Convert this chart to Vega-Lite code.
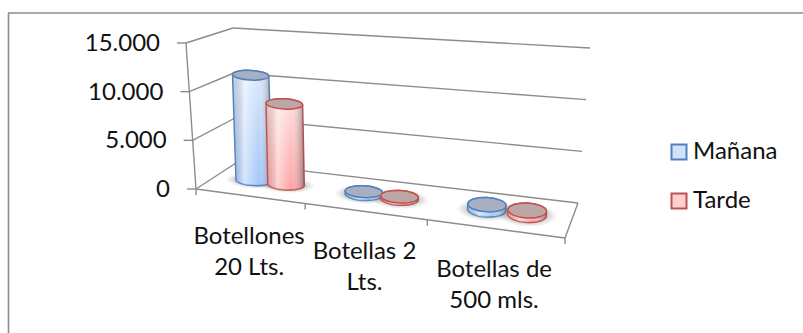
{
  "$schema": "https://vega.github.io/schema/vega-lite/v6.json",
  "width": 803,
  "height": 333,
  "padding": 0,
  "autosize": {"type": "none"},
  "background": "white",
  "view": {"stroke": null},
  "config": {"text": {"font": "Lato", "fontSize": 24, "fill": "#111111"}},
  "datasets": {
    "cilindros": [
      {"categoria": "Botellones 20 Lts.", "serie": "Mañana", "valor": 11100},
      {"categoria": "Botellones 20 Lts.", "serie": "Tarde", "valor": 8400},
      {"categoria": "Botellas 2 Lts.", "serie": "Mañana", "valor": 280},
      {"categoria": "Botellas 2 Lts.", "serie": "Tarde", "valor": 220},
      {"categoria": "Botellas de 500 mls.", "serie": "Mañana", "valor": 500},
      {"categoria": "Botellas de 500 mls.", "serie": "Tarde", "valor": 420}
    ],
    "escala": [{"valor": 0}, {"valor": 5000}, {"valor": 10000}, {"valor": 15000}],
    "categorias": [
      {"posicion": 0, "lineas": ["Botellones", "20 Lts."]},
      {"posicion": 1, "lineas": ["Botellas 2", "Lts."]},
      {"posicion": 2, "lineas": ["Botellas de", "500 mls."]}
    ],
    "marcas": [{"posicion": 0}, {"posicion": 1}, {"posicion": 2}, {"posicion": 3}]
  },
  "encoding": {
    "x": {"type": "quantitative", "scale": {"domain": [0, 803], "nice": false, "zero": false}, "axis": null},
    "y": {"type": "quantitative", "scale": {"domain": [0, 333], "reverse": true, "nice": false, "zero": false}, "axis": null}
  },
  "layer": [
    {
      "data": {"values": [{"marco": "superior"}]},
      "mark": {"type": "rule", "stroke": "#8c8c8c", "strokeWidth": 1.6},
      "encoding": {"x": {"datum": 8}, "x2": {"datum": 803}, "y": {"datum": 13}}
    },
    {
      "data": {"values": [{"marco": "izquierdo"}]},
      "mark": {"type": "rule", "stroke": "#8c8c8c", "strokeWidth": 1.6},
      "encoding": {"x": {"datum": 8.5}, "y": {"datum": 13}, "y2": {"datum": 333}}
    },
    {
      "data": {"name": "escala"},
      "transform": [
        {"calculate": "datum.valor/15000", "as": "w"},
        {"calculate": "236-3*datum.w", "as": "x0"},
        {"calculate": "163-135*datum.w", "as": "y0"},
        {"calculate": "578+12*datum.w", "as": "x1"},
        {"calculate": "203-155*datum.w", "as": "y1"}
      ],
      "mark": {"type": "rule", "stroke": "#8c8c8c", "strokeWidth": 1.4},
      "encoding": {
        "x": {"field": "x0", "type": "quantitative"},
        "y": {"field": "y0", "type": "quantitative"},
        "x2": {"field": "x1"},
        "y2": {"field": "y1"}
      }
    },
    {
      "data": {"name": "escala"},
      "transform": [
        {"calculate": "datum.valor/15000", "as": "w"},
        {"calculate": "196-10*datum.w", "as": "x0"},
        {"calculate": "189-146*datum.w", "as": "y0"},
        {"calculate": "236-3*datum.w", "as": "x1"},
        {"calculate": "163-135*datum.w", "as": "y1"}
      ],
      "mark": {"type": "rule", "stroke": "#8c8c8c", "strokeWidth": 1.4},
      "encoding": {
        "x": {"field": "x0", "type": "quantitative"},
        "y": {"field": "y0", "type": "quantitative"},
        "x2": {"field": "x1"},
        "y2": {"field": "y1"}
      }
    },
    {
      "data": {"name": "escala"},
      "transform": [
        {"calculate": "datum.valor/15000", "as": "w"},
        {"calculate": "196-10*datum.w", "as": "x1"},
        {"calculate": "189-146*datum.w", "as": "y0"},
        {"calculate": "datum.x1-9", "as": "x0"}
      ],
      "mark": {"type": "rule", "stroke": "#8c8c8c", "strokeWidth": 1.4},
      "encoding": {
        "x": {"field": "x0", "type": "quantitative"},
        "y": {"field": "y0", "type": "quantitative"},
        "x2": {"field": "x1"}
      }
    },
    {
      "data": {"values": [{"arista": "eje de valores"}]},
      "mark": {"type": "rule", "stroke": "#8c8c8c", "strokeWidth": 1.4},
      "encoding": {"x": {"datum": 186}, "y": {"datum": 43}, "x2": {"datum": 196}, "y2": {"datum": 189}}
    },
    {
      "data": {"values": [{"arista": "eje de categorias"}]},
      "mark": {"type": "rule", "stroke": "#8c8c8c", "strokeWidth": 1.4},
      "encoding": {"x": {"datum": 196}, "y": {"datum": 189}, "x2": {"datum": 565}, "y2": {"datum": 238}}
    },
    {
      "data": {"values": [{"arista": "lateral del suelo"}]},
      "mark": {"type": "rule", "stroke": "#8c8c8c", "strokeWidth": 1.4},
      "encoding": {"x": {"datum": 565}, "y": {"datum": 238}, "x2": {"datum": 578}, "y2": {"datum": 203}}
    },
    {
      "data": {"name": "marcas"},
      "transform": [
        {"calculate": "datum.posicion/3", "as": "t"},
        {"calculate": "datum.t/(datum.t+1.19*(1-datum.t))", "as": "f"},
        {"calculate": "196+369*datum.f", "as": "x0"},
        {"calculate": "189+49*datum.f", "as": "y0"},
        {"calculate": "datum.y0+6", "as": "y1"}
      ],
      "mark": {"type": "rule", "stroke": "#8c8c8c", "strokeWidth": 1.4},
      "encoding": {
        "x": {"field": "x0", "type": "quantitative"},
        "y": {"field": "y0", "type": "quantitative"},
        "y2": {"field": "y1"}
      }
    },
    {
      "data": {"name": "escala"},
      "transform": [
        {"calculate": "datum.valor/15000", "as": "w"},
        {"calculate": "196-10*datum.w-26", "as": "x0"},
        {"calculate": "189-146*datum.w+8", "as": "y0"},
        {"calculate": "replace(format(datum.valor, ','), ',', '.')", "as": "etiqueta"}
      ],
      "mark": {"type": "text", "align": "right", "baseline": "alphabetic"},
      "encoding": {
        "x": {"field": "x0", "type": "quantitative"},
        "y": {"field": "y0", "type": "quantitative"},
        "text": {"field": "etiqueta"}
      }
    },
    {
      "data": {"name": "categorias"},
      "transform": [
        {"calculate": "(datum.posicion+0.5)/3", "as": "t"},
        {"calculate": "datum.t/(datum.t+1.19*(1-datum.t))", "as": "f"},
        {"calculate": "196+369*datum.f", "as": "x0"},
        {"calculate": "189+49*datum.f+48", "as": "y0"}
      ],
      "mark": {"type": "text", "align": "center", "baseline": "alphabetic", "lineHeight": 31},
      "encoding": {
        "x": {"field": "x0", "type": "quantitative"},
        "y": {"field": "y0", "type": "quantitative"},
        "text": {"field": "lineas"}
      }
    },
    {
      "data": {"name": "cilindros"},
      "transform": [
        {"calculate": "indexof(['Botellones 20 Lts.','Botellas 2 Lts.','Botellas de 500 mls.'], datum.categoria)/3 + (datum.serie === 'Mañana' ? 0.125 : 0.226)", "as": "t"},
        {"calculate": "datum.t/(datum.t+1.19*(1-datum.t))", "as": "f"},
        {"calculate": "datum.valor/15000", "as": "w"},
        {"calculate": "216+355.5*datum.f", "as": "cx"},
        {"calculate": "176+44.5*datum.f", "as": "cy"},
        {"calculate": "datum.w*(-6.5+17.5*datum.f)", "as": "dx"},
        {"calculate": "datum.w*(-140.5-19.5*datum.f)", "as": "dy"},
        {"calculate": "datum.cx+datum.dx", "as": "tx"},
        {"calculate": "datum.cy+datum.dy", "as": "ty"},
        {"calculate": "18+1.5*datum.f", "as": "rx"},
        {"calculate": "4.5+3.5*datum.f", "as": "ry"},
        {"calculate": "datum.rx*0.9986", "as": "lx"},
        {"calculate": "datum.rx*0.0523", "as": "ly"},
        {"calculate": "'A'+datum.rx+','+datum.ry+',3,0,0,'", "as": "arco"},
        {"calculate": "'M'+(-datum.lx)+','+(-datum.ly)+datum.arco+datum.lx+','+datum.ly+'L'+(datum.dx+datum.lx)+','+(datum.dy+datum.ly)+datum.arco+(datum.dx-datum.lx)+','+(datum.dy-datum.ly)+'Z'", "as": "silueta"},
        {"calculate": "'M'+(-datum.lx)+','+(-datum.ly)+datum.arco+datum.lx+','+datum.ly+datum.arco+(-datum.lx)+','+(-datum.ly)+'Z'", "as": "tapa"}
      ],
      "encoding": {
        "x": {"field": "cx", "type": "quantitative"},
        "y": {"field": "cy", "type": "quantitative"}
      },
      "layer": [
        {
          "mark": {"type": "point", "filled": true, "fill": "#000000", "opacity": 0.05, "strokeOpacity": 0},
          "encoding": {"size": {"value": 9}, "shape": {"field": "tapa", "type": "nominal", "scale": null}}
        },
        {
          "mark": {"type": "point", "filled": true, "fill": "#000000", "opacity": 0.06, "strokeOpacity": 0},
          "encoding": {"size": {"value": 7}, "shape": {"field": "tapa", "type": "nominal", "scale": null}}
        },
        {
          "mark": {"type": "point", "filled": true, "fill": "#000000", "opacity": 0.08, "strokeOpacity": 0},
          "encoding": {"size": {"value": 5.4}, "shape": {"field": "tapa", "type": "nominal", "scale": null}}
        },
        {
          "transform": [{"filter": "datum.serie === 'Mañana'"}],
          "mark": {"type": "point", "filled": true, "opacity": 1, "stroke": "#4f81bd", "strokeWidth": 1.5,
            "fill": {"gradient": "linear", "x1": 0, "y1": 0, "x2": 0, "y2": 1,
              "stops": [{"offset": 0, "color": "#dde9fb"}, {"offset": 1, "color": "#a3c6f8"}]}},
          "encoding": {"size": {"value": 4}, "shape": {"field": "silueta", "type": "nominal", "scale": null}}
        },
        {
          "transform": [{"filter": "datum.serie === 'Mañana'"}],
          "mark": {"type": "point", "filled": true, "opacity": 1, "strokeOpacity": 0,
            "fill": {"gradient": "linear", "x1": 0, "y1": 0, "x2": 1, "y2": 0,
              "stops": [
                {"offset": 0, "color": "rgba(110,125,150,0.25)"},
                {"offset": 0.3, "color": "rgba(255,255,255,0.55)"},
                {"offset": 0.65, "color": "rgba(255,255,255,0)"},
                {"offset": 1, "color": "rgba(80,85,95,0.6)"}
              ]}},
          "encoding": {"size": {"value": 4}, "shape": {"field": "silueta", "type": "nominal", "scale": null}}
        },
        {
          "transform": [{"filter": "datum.serie === 'Mañana'"}],
          "mark": {"type": "point", "filled": true, "opacity": 1, "fill": "#a6b0c2", "stroke": "#4f81bd", "strokeWidth": 1.5},
          "encoding": {
            "x": {"field": "tx", "type": "quantitative"},
            "y": {"field": "ty", "type": "quantitative"},
            "size": {"value": 4},
            "shape": {"field": "tapa", "type": "nominal", "scale": null}
          }
        },
        {
          "transform": [{"filter": "datum.serie === 'Tarde'"}],
          "mark": {"type": "point", "filled": true, "opacity": 1, "stroke": "#c0504d", "strokeWidth": 1.5,
            "fill": {"gradient": "linear", "x1": 0, "y1": 0, "x2": 0, "y2": 1,
              "stops": [{"offset": 0, "color": "#fde0e0"}, {"offset": 1, "color": "#ffa3a3"}]}},
          "encoding": {"size": {"value": 4}, "shape": {"field": "silueta", "type": "nominal", "scale": null}}
        },
        {
          "transform": [{"filter": "datum.serie === 'Tarde'"}],
          "mark": {"type": "point", "filled": true, "opacity": 1, "strokeOpacity": 0,
            "fill": {"gradient": "linear", "x1": 0, "y1": 0, "x2": 1, "y2": 0,
              "stops": [
                {"offset": 0, "color": "rgba(150,110,110,0.25)"},
                {"offset": 0.3, "color": "rgba(255,255,255,0.5)"},
                {"offset": 0.65, "color": "rgba(255,255,255,0)"},
                {"offset": 1, "color": "rgba(95,80,80,0.6)"}
              ]}},
          "encoding": {"size": {"value": 4}, "shape": {"field": "silueta", "type": "nominal", "scale": null}}
        },
        {
          "transform": [{"filter": "datum.serie === 'Tarde'"}],
          "mark": {"type": "point", "filled": true, "opacity": 1, "fill": "#bfa6a6", "stroke": "#c0504d", "strokeWidth": 1.5},
          "encoding": {
            "x": {"field": "tx", "type": "quantitative"},
            "y": {"field": "ty", "type": "quantitative"},
            "size": {"value": 4},
            "shape": {"field": "tapa", "type": "nominal", "scale": null}
          }
        },
        {
          "mark": {"type": "point", "filled": true, "size": 0, "opacity": 0},
          "encoding": {
            "fill": {
              "field": "serie",
              "type": "nominal",
              "scale": {"domain": ["Mañana", "Tarde"], "range": ["#d3e2f9", "#fdd0d0"]},
              "legend": {
                "title": null,
                "orient": "none",
                "legendX": 667,
                "legendY": 140,
                "symbolType": "square",
                "symbolSize": 225,
                "symbolOpacity": 1,
                "symbolStrokeWidth": 2,
                "labelFont": "Lato",
                "labelFontSize": 24,
                "labelColor": "#111111",
                "labelOffset": 2,
                "rowPadding": 25,
                "encode": {
                  "symbols": {
                    "update": {
                      "fill": {"signal": "datum.value === 'Mañana' ? {gradient: 'linear', x1: 0, y1: 0, x2: 0, y2: 1, stops: [{offset: 0, color: '#e6effc'}, {offset: 1, color: '#a9cbf9'}]} : {gradient: 'linear', x1: 0, y1: 0, x2: 0, y2: 1, stops: [{offset: 0, color: '#fdeaea'}, {offset: 1, color: '#ffaaaa'}]}"},
                      "fillOpacity": {"value": 1},
                      "opacity": {"value": 1}
                    }
                  }
                }
              }
            },
            "stroke": {
              "field": "serie",
              "type": "nominal",
              "scale": {"domain": ["Mañana", "Tarde"], "range": ["#4f81bd", "#c0504d"]}
            }
          }
        }
      ]
    }
  ]
}
